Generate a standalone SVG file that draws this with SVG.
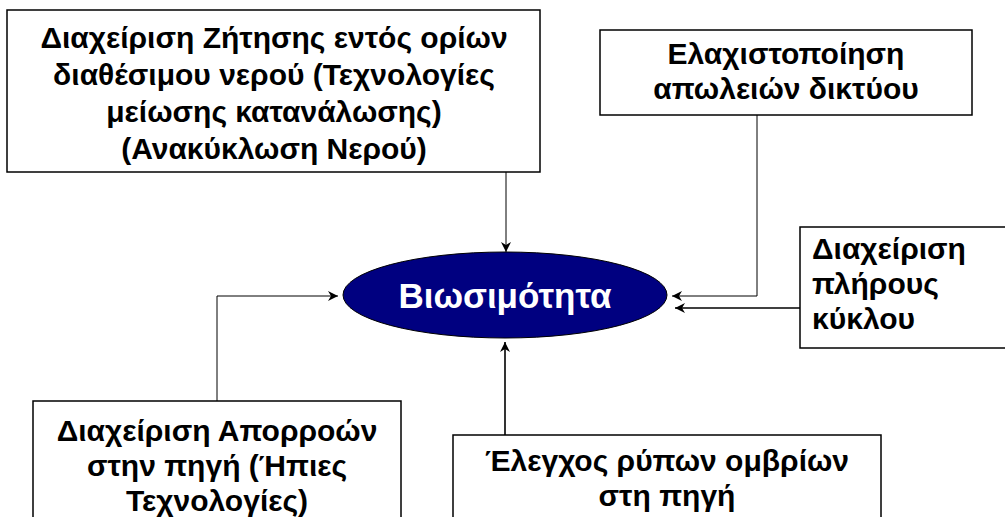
<svg xmlns="http://www.w3.org/2000/svg" width="1005" height="517" viewBox="0 0 1005 517">
<defs>
<style>
.box{fill:#fff;stroke:#000;stroke-width:1.5}
.t{font-family:"Liberation Sans",Arial,sans-serif;font-weight:bold;font-size:30px;fill:#000;text-anchor:middle}
.tl{text-anchor:start}
.c{fill:none;stroke:#000;stroke-width:1}
.c2{fill:none;stroke:#000;stroke-width:1.6}
</style>
<marker id="ah" viewBox="0 0 10 10" refX="10" refY="5" markerWidth="10" markerHeight="10" markerUnits="userSpaceOnUse" orient="auto">
<path d="M0,0 L10,5 L0,10 L3,5 Z" fill="#000"/>
</marker>
</defs>
<rect width="1005" height="517" fill="#fff"/>
<g id="connectors">
<path class="c" d="M506,172 V252" marker-end="url(#ah)"/>
<path class="c" d="M757,115 V296 H672" marker-end="url(#ah)"/>
<path class="c2" d="M800,308 H675" marker-end="url(#ah)"/>
<path class="c" d="M217,401 V296 H338" marker-end="url(#ah)"/>
<path class="c2" d="M505,435 V342" marker-end="url(#ah)"/>
</g>
<g id="node-center">
<ellipse cx="505" cy="295" rx="162" ry="43" fill="#000080" stroke="#000" stroke-width="1"/>
<text class="t" x="505" y="308" style="font-size:35px;fill:#fff">Βιωσιμότητα</text>
</g>
<g id="node-demand">
<rect class="box" x="7" y="10" width="533" height="162"/>
<text class="t" x="274" y="48">Διαχείριση Ζήτησης εντός ορίων</text>
<text class="t" x="274" y="85">διαθέσιμου νερού (Τεχνολογίες</text>
<text class="t" x="274" y="122">μείωσης κατανάλωσης)</text>
<text class="t" x="274" y="159">(Ανακύκλωση Νερού)</text>
</g>
<g id="node-losses">
<rect class="box" x="600" y="30" width="372" height="85"/>
<text class="t" x="786" y="64">Ελαχιστοποίηση</text>
<text class="t" x="786" y="99">απωλειών δικτύου</text>
</g>
<g id="node-cycle">
<rect class="box" x="800" y="227" width="215" height="121"/>
<text class="t tl" x="812" y="259">Διαχείριση</text>
<text class="t tl" x="812" y="294">πλήρους</text>
<text class="t tl" x="812" y="329">κύκλου</text>
</g>
<g id="node-runoff">
<rect class="box" x="33" y="401" width="368" height="130"/>
<text class="t" x="217" y="441">Διαχείριση Απορροών</text>
<text class="t" x="217" y="476">στην πηγή (Ήπιες</text>
<text class="t" x="217" y="511">Τεχνολογίες)</text>
</g>
<g id="node-pollutants">
<rect class="box" x="453" y="435" width="428" height="100"/>
<text class="t" x="667" y="471">Έλεγχος ρύπων ομβρίων</text>
<text class="t" x="667" y="506">στη πηγή</text>
</g>
</svg>
